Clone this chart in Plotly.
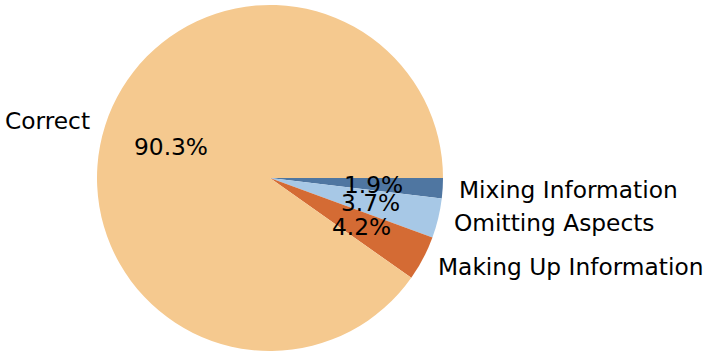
import math
import plotly.graph_objects as go

labels = ["Mixing Information", "Omitting Aspects", "Making Up Information", "Correct"]
values = [1.9, 3.7, 4.2, 90.3]
colors = ["#4F76A1", "#A7C8E6", "#D46B34", "#F5C98F"]

W, H = 708, 357
cx, cy, r = 270, 178, 173
FONT = "DejaVu Sans"
FS = 23.3

fig = go.Figure(go.Pie(
    labels=labels, values=values, marker=dict(colors=colors, line=dict(width=0)),
    sort=False, direction="clockwise", rotation=90,
    textinfo="none", hoverinfo="label+percent", showlegend=False,
    domain=dict(x=[(cx - r) / W, (cx + r) / W], y=[1 - (cy + r) / H, 1 - (cy - r) / H]),
))

total = sum(values)
ann = []
start = 0.0  # degrees, measured clockwise from 3 o'clock
for lab, v in zip(labels, values):
    ang = start + v / total * 360 / 2
    start += v / total * 360
    a = math.radians(ang)
    right = math.cos(a) > 0
    lx = cx + 1.1 * r * math.cos(a) + (-1 if right else 1)
    ly = cy + 1.1 * r * math.sin(a)
    ann.append(dict(x=lx / W, y=1 - ly / H, xref="paper", yref="paper", text=lab,
                    showarrow=False, xanchor="left" if right else "right",
                    yanchor="middle", borderpad=0, borderwidth=0,
                    font=dict(family=FONT, size=FS, color="black")))
    px = cx + 0.6 * r * math.cos(a)
    py = cy + 0.6 * r * math.sin(a)
    ann.append(dict(x=px / W, y=1 - py / H, xref="paper", yref="paper", text="%.1f%%" % v,
                    showarrow=False, xanchor="center", yanchor="middle",
                    borderpad=0, borderwidth=0,
                    font=dict(family=FONT, size=FS, color="black")))

fig.update_layout(width=W, height=H, margin=dict(l=0, r=0, t=0, b=0),
                  paper_bgcolor="white", plot_bgcolor="white", annotations=ann)
fig.write_html("out.html", config={"displayModeBar": False},
               post_script="document.body.style.margin='0';")
